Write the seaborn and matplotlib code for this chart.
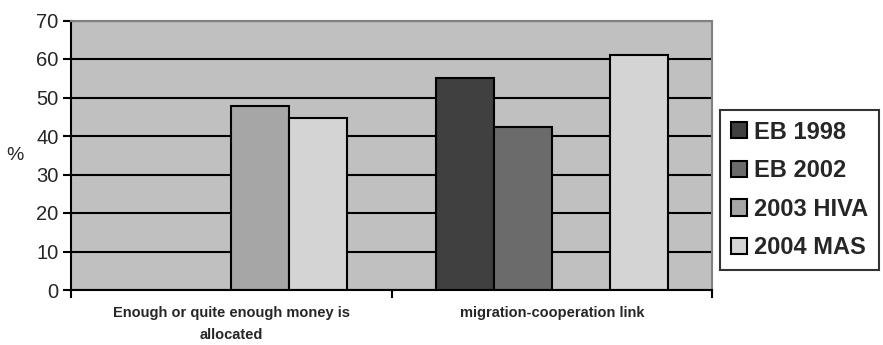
import numpy as np
import pandas as pd
import matplotlib
matplotlib.use("Agg")
import matplotlib.pyplot as plt
import seaborn as sns

categories = ["Enough or quite enough money is\nallocated", "migration-cooperation link"]
series = ["EB 1998", "EB 2002", "2003 HIVA", "2004 MAS"]
eb_1998 = [np.nan, 55.0]
eb_2002 = [np.nan, 42.3]
hiva_2003 = [47.7, np.nan]
mas_2004 = [44.8, 61.0]
colors = ["#404040", "#6b6b6b", "#a6a6a6", "#d4d4d4"]
y_ticks = [0, 10, 20, 30, 40, 50, 60, 70]

rows = []
for name, vals in zip(series, [eb_1998, eb_2002, hiva_2003, mas_2004]):
    for cat, v in zip(categories, vals):
        rows.append({"category": cat, "series": name, "value": v})
df = pd.DataFrame(rows).dropna()

sns.set_theme(style="white")
plt.rcParams["font.family"] = ["Liberation Sans", "DejaVu Sans"]

fig = plt.figure(figsize=(8.83, 3.45), dpi=100)
ax = fig.add_axes([71 / 883, 1 - 290 / 345, (712 - 71) / 883, (290 - 20.5) / 345])
ax.set_facecolor("#c0c0c0")

sns.barplot(
    data=df, x="category", y="value", hue="series",
    order=categories, hue_order=series, palette=colors,
    width=0.725, edgecolor="black", linewidth=1.5,
    errorbar=None, ax=ax, saturation=1, legend=True,
)

ax.set_axisbelow(True)
ax.set_ylim(0, 70)
ax.set_xlim(-0.5, 1.5)
ax.set_yticks(y_ticks)
ax.yaxis.grid(True, color="black", linewidth=1.5)
ax.xaxis.grid(False)

ax.tick_params(axis="y", direction="out", length=6, width=1.5, color="black",
               labelsize=14.5, pad=3, left=True)
ax.set_yticklabels([str(t) for t in y_ticks])

# category boundaries carry the x ticks, labels sit at centres
ax.set_xticks([-0.5, 0.5, 1.5])
ax.set_xticklabels([])
ax.tick_params(axis="x", direction="out", length=6, width=1.5, color="black", bottom=True)
for i, cat in enumerate(categories):
    ax.text(i, -0.06, cat, transform=ax.get_xaxis_transform(), ha="center", va="top",
            fontsize=10.5, fontweight="bold", linespacing=1.75)

ax.set_xlabel("")
ax.set_ylabel("")
fig.text(15 / 883, 1 - 155 / 345, "%", fontsize=14, ha="center", va="center")

for side in ["left", "bottom"]:
    ax.spines[side].set_color("black")
    ax.spines[side].set_linewidth(1.5)
for side in ["top", "right"]:
    ax.spines[side].set_color("#808080")
    ax.spines[side].set_linewidth(1.5)

handles, labels = ax.get_legend_handles_labels()
ax.legend_.remove()
leg = fig.legend(
    handles, labels, loc="upper left", bbox_to_anchor=(720 / 883, 1 - 110 / 345),
    bbox_transform=fig.transFigure, frameon=True, fancybox=False,
    prop={"weight": "bold", "size": 17}, handlelength=0.68, handleheight=0.68,
    handletextpad=0.3, labelspacing=0.66, borderpad=0.45, borderaxespad=0,
)
leg.get_frame().set_edgecolor("black")
leg.get_frame().set_linewidth(1.5)
for h in leg.legend_handles:
    h.set_edgecolor("black")
    h.set_linewidth(1.5)

fig.savefig("out.png", dpi=100)
